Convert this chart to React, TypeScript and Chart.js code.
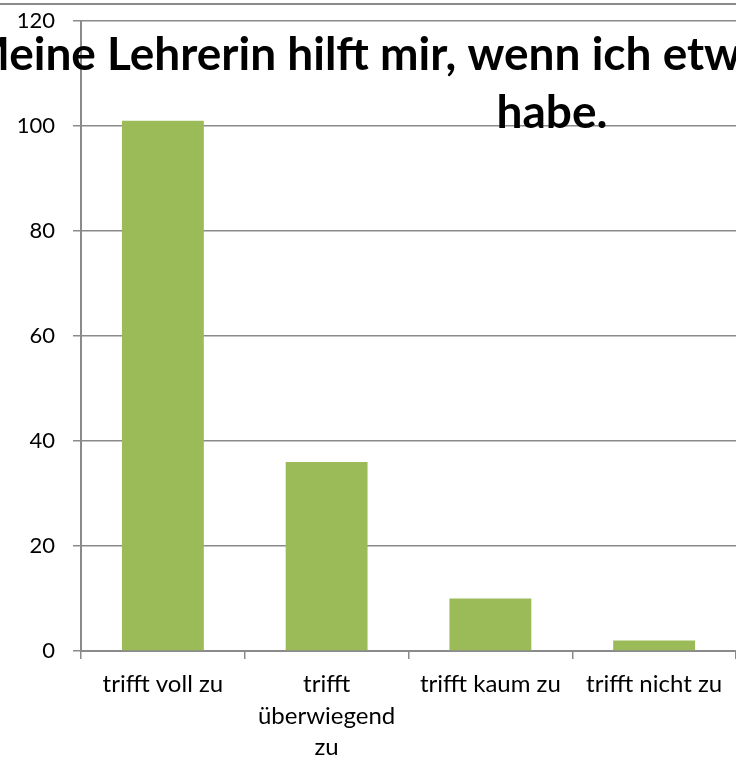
import React, { useEffect, useRef } from "react";
import { Chart, registerables } from "chart.js";

Chart.register(...registerables);

const categories: (string | string[])[] = [
  "trifft voll zu",
  ["trifft", "überwiegend", "zu"],
  "trifft kaum zu",
  "trifft nicht zu",
];
const values = [101, 36, 10, 2];
const titleLines = ["Meine Lehrerin hilft mir, wenn ich etwas nicht verstanden", "habe."];
const yMin = 0;
const yMax = 120;
const yStep = 20;

const FONT = "Lato, 'Open Sans', sans-serif";

const decorPlugin = {
  id: "decor",
  beforeDraw(chart: any) {
    const ctx = chart.ctx;
    ctx.save();
    ctx.strokeStyle = "#8a8a8a";
    ctx.lineWidth = 2;
    ctx.beginPath();
    ctx.moveTo(0, 4);
    ctx.lineTo(chart.width, 4);
    ctx.stroke();
    ctx.restore();
  },
  afterDraw(chart: any) {
    const ctx = chart.ctx;
    ctx.save();
    ctx.fillStyle = "#000";
    ctx.font = `bold 46px ${FONT}`;
    ctx.textAlign = "center";
    ctx.textBaseline = "alphabetic";
    ctx.fillText(titleLines[0], 552, 70);
    ctx.fillText(titleLines[1], 552, 128);
    ctx.restore();
  },
};

export default function App() {
  const ref = useRef<HTMLCanvasElement | null>(null);
  useEffect(() => {
    if (!ref.current) return;
    const chart = new Chart(ref.current, {
      type: "bar",
      data: {
        labels: categories,
        datasets: [
          {
            data: values,
            backgroundColor: "#9BBB59",
            borderWidth: 0,
            barPercentage: 1,
            categoryPercentage: 0.5,
          },
        ],
      },
      options: {
        responsive: false,
        maintainAspectRatio: false,
        animation: false,
        layout: { padding: { top: 21, right: 0, left: 0, bottom: 0 } },
        plugins: {
          legend: { display: false },
          title: { display: false },
          tooltip: { enabled: false },
        },
        scales: {
          x: {
            grid: {
              offset: true,
              drawOnChartArea: false,
              drawTicks: true,
              tickLength: 8,
              color: "#8a8a8a",
              lineWidth: 1.5,
            },
            border: { display: true, color: "#8a8a8a", width: 2 },
            ticks: {
              color: "#000",
              font: { family: FONT, size: 24, lineHeight: 1.3 },
              padding: 10,
              maxRotation: 0,
              autoSkip: false,
            },
            afterFit(scale: any) {
              scale.height = 114;
              scale.paddingLeft = 0;
              scale.paddingRight = 0;
            },
          },
          y: {
            min: yMin,
            max: yMax,
            ticks: {
              stepSize: yStep,
              color: "#000",
              font: { family: FONT, size: 22 },
              padding: 18,
            },
            grid: {
              color: "#8a8a8a",
              lineWidth: 1.5,
              tickLength: 8,
            },
            border: { display: true, color: "#8a8a8a", width: 2 },
            afterFit(scale: any) {
              scale.width = 81;
              scale.paddingTop = 0;
              scale.paddingBottom = 0;
            },
          },
        },
      },
      plugins: [decorPlugin],
    });
    return () => chart.destroy();
  }, []);
  return (
    <div style={{ position: "absolute", left: 0, top: 0, width: 736, height: 765, background: "#fff" }}>
      <canvas ref={ref} width={736} height={765} style={{ width: 736, height: 765, display: "block" }} />
    </div>
  );
}
